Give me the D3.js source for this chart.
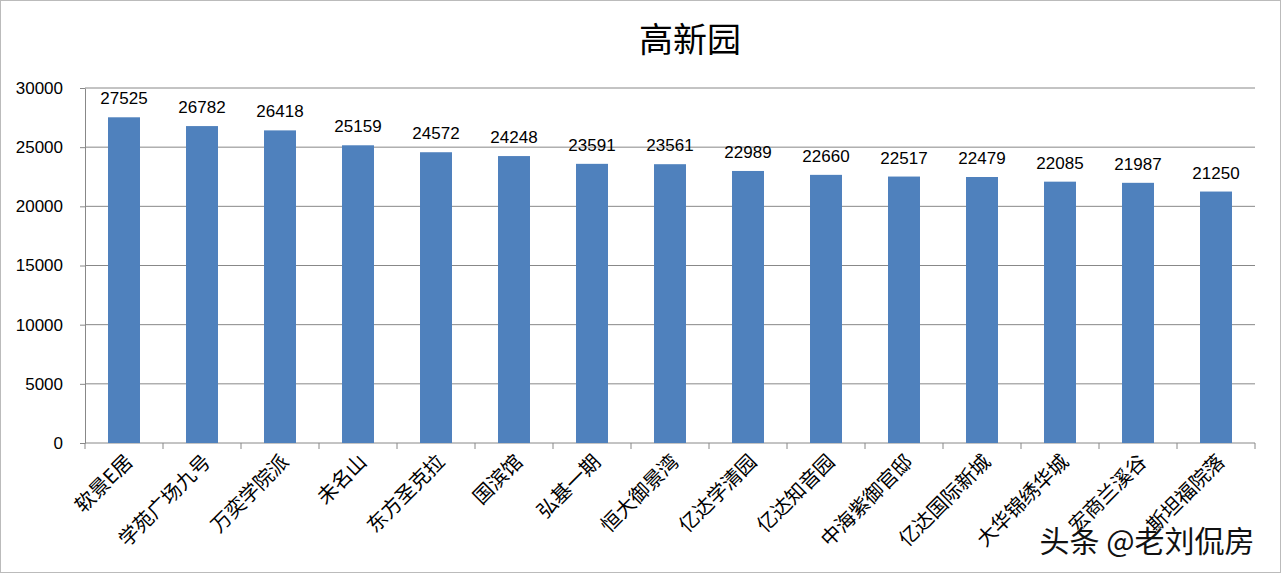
<!DOCTYPE html><html><head><meta charset="utf-8"><script src="https://cdn.jsdelivr.net/npm/d3@7"></script>
<style>body{margin:0;background:#fff}text{font-family:"Noto Sans CJK SC",sans-serif}</style></head><body>
<svg id="c" width="1282" height="575"></svg>
<script>
const categories=["软景E居","学苑广场九号","万奕学院派","未名山","东方圣克拉","国滨馆","弘基一期","恒大御景湾","亿达学清园","亿达知音园","中海紫御官邸","亿达国际新城","大华锦绣华城","宏商兰溪谷","斯坦福院落"];
const values=[27525,26782,26418,25159,24572,24248,23591,23561,22989,22660,22517,22479,22085,21987,21250];
const yTicks=[0,5000,10000,15000,20000,25000,30000];
const svg=d3.select("#c");
svg.append("rect").attr("x",0.5).attr("y",0.5).attr("width",1280).attr("height",572).attr("fill","#fff").attr("stroke","#bbb");
const x=d3.scaleBand().domain(categories).range([85,1255]).paddingInner(0.59).paddingOuter(0.295);
const y=d3.scaleLinear().domain([0,30000]).range([443,88]);
svg.append("g").selectAll("line").data(yTicks.slice(1)).join("line").attr("x1",85).attr("x2",1255).attr("y1",d=>y(d)).attr("y2",d=>y(d)).attr("stroke","#888").attr("stroke-width",1);
const ya=svg.append("g").attr("transform","translate(85,0)").call(d3.axisLeft(y).tickValues(yTicks).tickFormat(d3.format("d")).tickSize(5).tickSizeOuter(0));
ya.selectAll("text").attr("font-size",17).attr("fill","#000").attr("x",-22).style("font-family","Liberation Sans");
ya.selectAll("line,path").attr("stroke","#888");
const step=x.step();
const xa=svg.append("g").attr("transform","translate(0,443)");
xa.append("line").attr("x1",85).attr("x2",1255).attr("stroke","#888");
xa.selectAll("line.t").data(d3.range(16)).join("line").attr("class","t").attr("x1",d=>85+d*step).attr("x2",d=>85+d*step).attr("y1",0).attr("y2",6).attr("stroke","#888");
xa.selectAll("text").data(categories).join("text").attr("text-anchor","end").attr("font-size",20)
 .attr("transform",d=>`translate(${x(d)+x.bandwidth()/2+10},${20}) rotate(-45)`).text(d=>d);
svg.append("g").selectAll("rect").data(categories).join("rect").attr("x",d=>x(d)).attr("width",x.bandwidth()).attr("y",(d,i)=>y(values[i])).attr("height",(d,i)=>443-y(values[i])).attr("fill","#4f81bd");
svg.append("g").selectAll("text").data(categories).join("text").attr("text-anchor","middle").attr("font-size",17).style("font-family","Liberation Sans")
 .attr("x",d=>x(d)+x.bandwidth()/2).attr("y",(d,i)=>y(values[i])-13).text((d,i)=>values[i]);
svg.append("text").attr("x",690).attr("y",52).attr("text-anchor","middle").attr("font-size",34).text("高新园");
svg.append("text").attr("x",1147).attr("y",552).attr("text-anchor","middle").attr("font-size",30).attr("fill","#111").attr("stroke","#fff").attr("stroke-width",1).attr("paint-order","stroke").text("头条 @老刘侃房");
</script></body></html>
